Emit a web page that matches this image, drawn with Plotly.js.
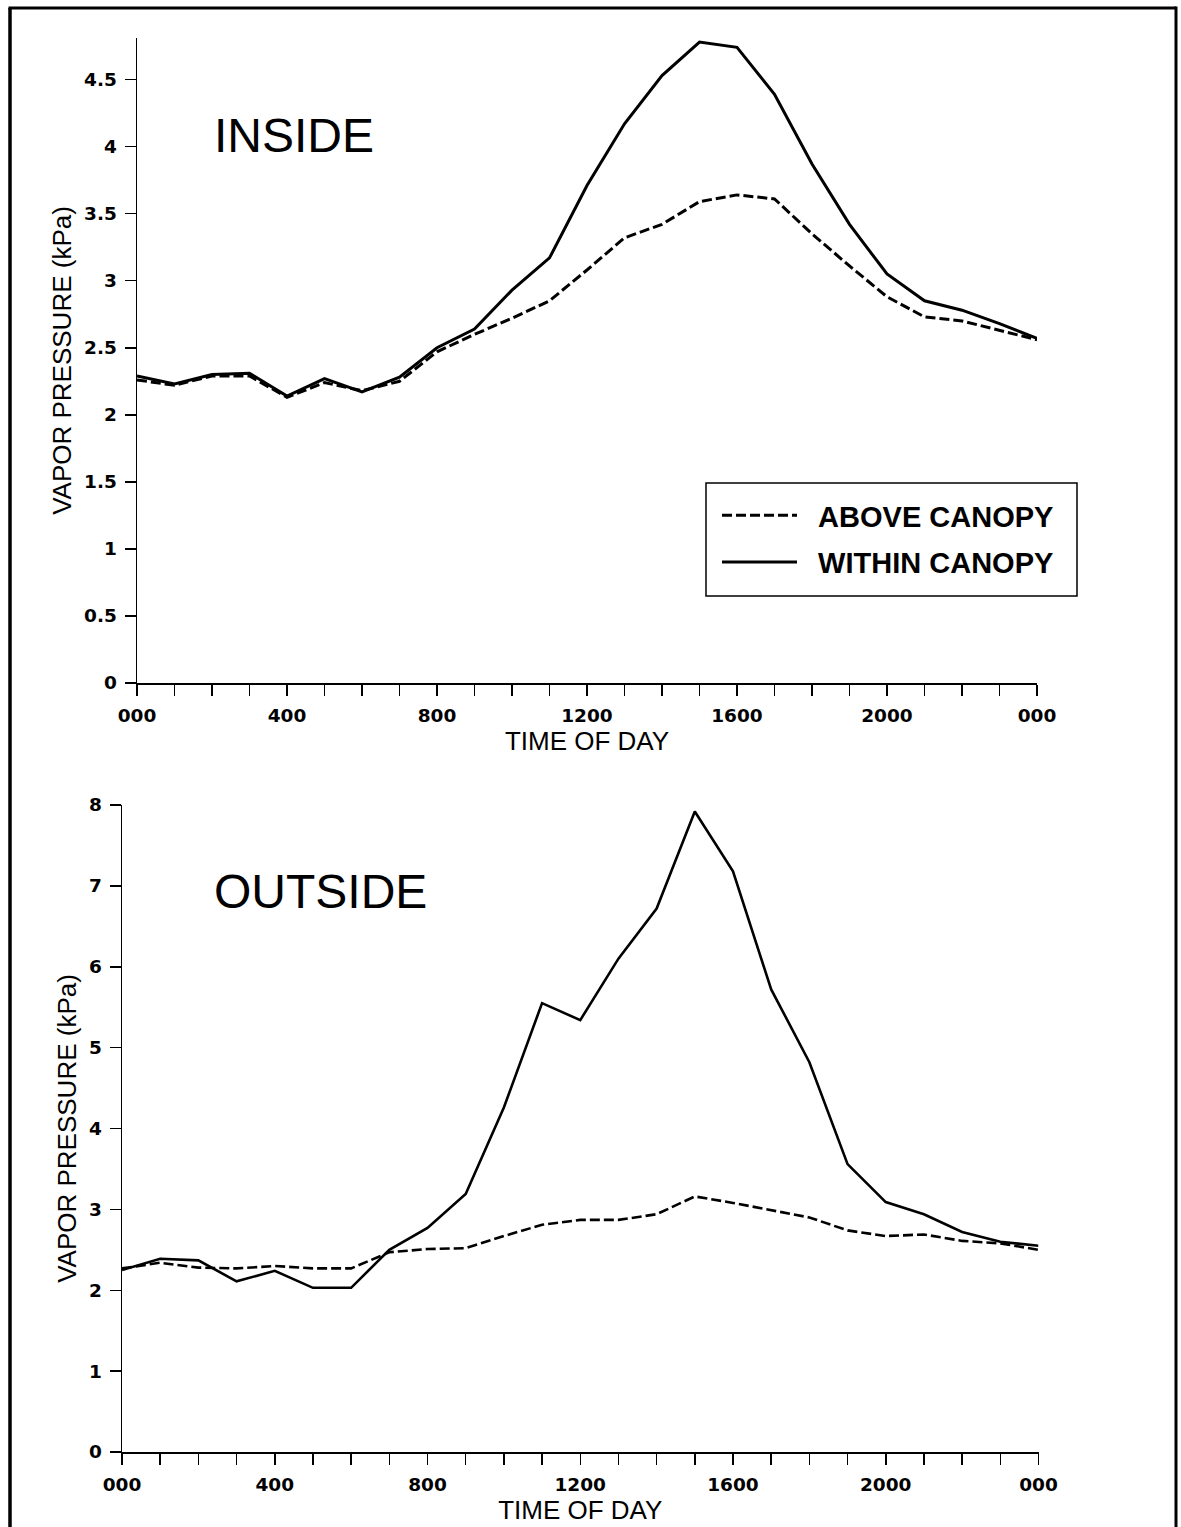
<!DOCTYPE html>
<html>
<head>
<meta charset="utf-8">
<script src="https://cdn.plot.ly/plotly-3.0.1.min.js"></script>
<style>
  html, body { margin: 0; padding: 0; background: #ffffff; }
  #chart { width: 1181px; height: 1527px; }
</style>
</head>
<body>
<div id="chart"></div>
<script>
// Hour of day (hhmm), hourly readings over one day
const hours = [0, 100, 200, 300, 400, 500, 600, 700, 800, 900, 1000, 1100, 1200,
               1300, 1400, 1500, 1600, 1700, 1800, 1900, 2000, 2100, 2200, 2300, 2400];
const hourTickText = ["000", "", "", "", "400", "", "", "", "800", "", "", "", "1200",
                      "", "", "", "1600", "", "", "", "2000", "", "", "", "000"];

// INSIDE: vapor pressure (kPa)
const insideAbove  = [2.26, 2.22, 2.29, 2.29, 2.13, 2.24, 2.18, 2.25, 2.47, 2.60, 2.72, 2.85, 3.08,
                      3.32, 3.42, 3.59, 3.64, 3.61, 3.35, 3.11, 2.88, 2.73, 2.70, 2.63, 2.56];
const insideWithin = [2.29, 2.23, 2.30, 2.31, 2.14, 2.27, 2.17, 2.28, 2.50, 2.64, 2.93, 3.17, 3.71,
                      4.17, 4.53, 4.78, 4.74, 4.39, 3.87, 3.42, 3.05, 2.85, 2.78, 2.68, 2.57];

// OUTSIDE: vapor pressure (kPa)
const outsideAbove  = [2.27, 2.34, 2.28, 2.27, 2.30, 2.27, 2.27, 2.47, 2.51, 2.52, 2.67, 2.81, 2.87,
                       2.87, 2.94, 3.16, 3.08, 2.99, 2.90, 2.74, 2.67, 2.69, 2.61, 2.58, 2.50];
const outsideWithin = [2.25, 2.39, 2.37, 2.11, 2.24, 2.03, 2.03, 2.50, 2.77, 3.19, 4.26, 5.55, 5.34,
                       6.10, 6.72, 7.92, 7.18, 5.72, 4.82, 3.56, 3.09, 2.94, 2.72, 2.60, 2.55];

const insideTicks  = [0, 0.5, 1, 1.5, 2, 2.5, 3, 3.5, 4, 4.5];
const insideTickText = ["0", "0.5", "1", "1.5", "2", "2.5", "3", "3.5", "4", "4.5"];
const outsideTicks = [0, 1, 2, 3, 4, 5, 6, 7, 8];

const seriesNames = ["ABOVE CANOPY", "WITHIN CANOPY"];

const W = 1181, H = 1527;
const px = v => v / W;          // horizontal pixel -> paper fraction
const py = v => 1 - v / H;      // vertical pixel (from top) -> paper fraction

const INK = "#000000";
const tickFont  = { family: "DejaVu Sans, Liberation Sans, sans-serif", size: 18.5, weight: 700, color: INK };
const titleFont = { family: "Liberation Sans, Arial, sans-serif", size: 26, color: INK };

// legend labels sit a little further from their line samples
const legendLabel = name => "\u00A0\u00A0" + name;

const dashed = { color: INK, width: 3, dash: "10px,4px" };
const solid  = { color: INK, width: 3 };

const traces = [
  { x: hours, y: insideAbove,  xaxis: "x",  yaxis: "y",  type: "scatter", mode: "lines",
    name: legendLabel(seriesNames[0]), line: dashed, legendgroup: "a", hoverinfo: "skip" },
  { x: hours, y: insideWithin, xaxis: "x",  yaxis: "y",  type: "scatter", mode: "lines",
    name: legendLabel(seriesNames[1]), line: solid, legendgroup: "b", hoverinfo: "skip" },
  { x: hours, y: outsideAbove, xaxis: "x2", yaxis: "y2", type: "scatter", mode: "lines",
    name: seriesNames[0], line: Object.assign({}, dashed, { width: 2.6 }), showlegend: false, hoverinfo: "skip" },
  { x: hours, y: outsideWithin, xaxis: "x2", yaxis: "y2", type: "scatter", mode: "lines",
    name: seriesNames[1], line: Object.assign({}, solid, { width: 2.6 }), showlegend: false, hoverinfo: "skip" }
];

function xAxis(domain, anchor) {
  return {
    domain: domain, anchor: anchor, range: [0, 2400],
    tickmode: "array", tickvals: hours, ticktext: hourTickText,
    ticks: "outside", ticklen: 11, tickwidth: 1.5, tickcolor: INK,
    showline: true, linewidth: 1.5, linecolor: INK,
    showgrid: false, zeroline: false, tickfont: tickFont,
    ticklabelstandoff: 4,
    title: { text: "TIME OF DAY", font: titleFont, standoff: 0 }
  };
}

function yAxis(domain, anchor, range, vals, text) {
  return {
    domain: domain, anchor: anchor, range: range,
    tickmode: "array", tickvals: vals, ticktext: text,
    ticks: "outside", ticklen: 11, tickwidth: 1.5, tickcolor: INK,
    showline: true, linewidth: 1.5, linecolor: INK,
    showgrid: false, zeroline: false, tickfont: tickFont,
    ticklabelstandoff: 4,
    title: { text: "VAPOR PRESSURE (kPa)", font: titleFont, standoff: 5 }
  };
}

const layout = {
  width: W, height: H,
  margin: { l: 0, r: 0, t: 0, b: 0 },
  paper_bgcolor: "#ffffff", plot_bgcolor: "#ffffff",
  showlegend: true,
  xaxis:  xAxis([px(137), px(1037)], "y"),
  yaxis:  yAxis([py(683), py(38)], "x", [0, 4.81], insideTicks, insideTickText),
  xaxis2: xAxis([px(122), px(1038.5)], "y2"),
  yaxis2: yAxis([py(1452), py(805)], "x2", [0, 8], outsideTicks, outsideTicks.map(String)),
  legend: {
    x: px(717), y: py(490), xanchor: "left", yanchor: "top",
    bgcolor: "rgba(0,0,0,0)", borderwidth: 0,
    font: { family: "Liberation Sans, Arial, sans-serif", size: 29, weight: 700, color: INK },
    itemwidth: 75, traceorder: "grouped", tracegroupgap: 6
  },
  annotations: [
    { text: "INSIDE", xref: "paper", yref: "paper", x: px(212), y: py(135),
      xanchor: "left", yanchor: "middle", showarrow: false,
      font: { family: "Liberation Sans, Arial, sans-serif", size: 48, color: INK } },
    { text: "OUTSIDE", xref: "paper", yref: "paper", x: px(212), y: py(891),
      xanchor: "left", yanchor: "middle", showarrow: false,
      font: { family: "Liberation Sans, Arial, sans-serif", size: 48, color: INK } }
  ],
  shapes: [
    // legend frame
    { type: "rect", xref: "paper", yref: "paper", x0: px(706), x1: px(1077), y0: py(596), y1: py(483),
      line: { color: INK, width: 1.5 } },
    // page border (open at the bottom edge)
    { type: "line", xref: "paper", yref: "paper", x0: px(10), x1: px(10), y0: py(8), y1: py(1540),
      line: { color: INK, width: 3.5 } },
    { type: "line", xref: "paper", yref: "paper", x0: px(8.5), x1: px(1176), y0: py(8), y1: py(8),
      line: { color: INK, width: 3 } },
    { type: "line", xref: "paper", yref: "paper", x0: px(1176), x1: px(1176), y0: py(6.5), y1: py(1540),
      line: { color: INK, width: 3 } }
  ]
};

Plotly.newPlot("chart", traces, layout, { displayModeBar: false, staticPlot: true });
</script>
</body>
</html>
